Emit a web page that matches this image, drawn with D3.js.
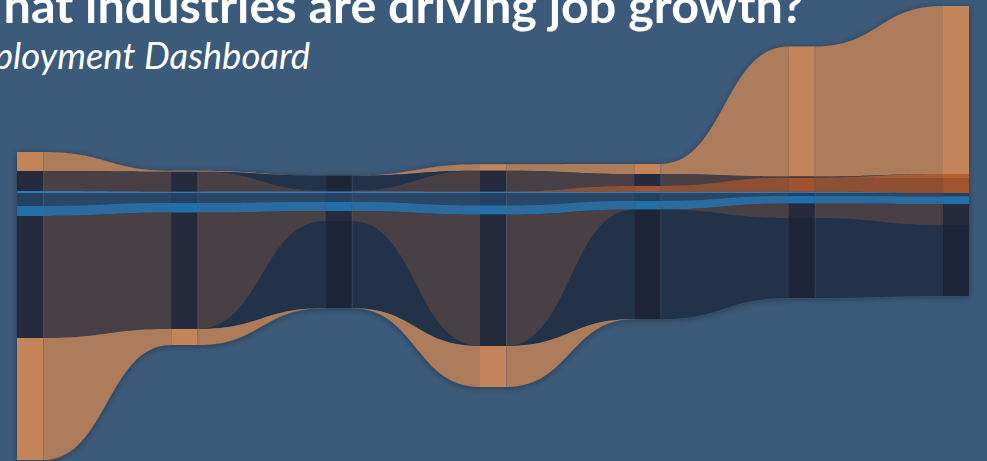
<!DOCTYPE html>
<html>
<head>
<meta charset="utf-8">
<script src="https://cdn.jsdelivr.net/npm/d3@7/dist/d3.min.js"></script>
<style>
  html, body { margin: 0; padding: 0; background: #3c5a79; overflow: hidden; }
  svg { display: block; }
  .title { font-family: Lato, "Open Sans", sans-serif; font-weight: 700; fill: #fff; }
  .subtitle { font-family: Lato, "Open Sans", sans-serif; font-style: italic; font-weight: 400; fill: #fff; }
</style>
</head>
<body>
<svg id="chart" width="987" height="461"></svg>
<script>
// periods shown as columns
var periods = ["2013", "2014", "2015", "2016", "2017", "2018", "2019"];

// industry bands, listed top to bottom; first six sit above the baseline
var bands = ["growthTop", "shrinkTop", "steadyTop", "riseSmall", "rise", "blueThin",
             "blueDark", "blue", "steady", "shrink", "growthBottom"];
var aboveBaseline = 6;

// change in jobs (thousands) per band and period
var growthTop    = [19, 1, 0, 6.5, 10, 130, 168];
var shrinkTop    = [0, 0, 15, 0, 0, 0, 0];
var steadyTop    = [20, 20, 0.8, 21, 12, 1.2, 0];
var riseSmall    = [0, 0, 0, 0, 0, 0, 4];
var rise         = [0, 0, 0, 0, 5.7, 14, 15];
var blueThin     = [2, 1.3, 1.5, 1.3, 1.3, 1.3, 0];
var blueDark     = [13, 10, 9, 12.5, 8, 3, 3.5];
var blue         = [10, 9.6, 9, 9, 8.5, 7.5, 7.5];
var steady       = [122, 116.4, 10, 131.5, 0, 14.5, 21];
var shrink       = [0, 0, 87, 0, 109.5, 80, 71];
var growthBottom = [122, 16, 0, 41, 0, 0, 0];

var values = {
  growthTop: growthTop, shrinkTop: shrinkTop, steadyTop: steadyTop, riseSmall: riseSmall,
  rise: rise, blueThin: blueThin, blueDark: blueDark, blue: blue, steady: steady,
  shrink: shrink, growthBottom: growthBottom
};

var nodeColor = {
  growthTop: "#c4845a", shrinkTop: "#1e2638", steadyTop: "#252a3e", riseSmall: "#b8612f",
  rise: "#a0522d", blueThin: "#2b7bbb", blueDark: "#273f62", blue: "#2070aa",
  steady: "#252a3e", shrink: "#1e2638", growthBottom: "#c4845a"
};
var linkColor = {
  growthTop: "#ad7b5a", shrinkTop: "#22314a", steadyTop: "#4a3f45", riseSmall: "#a85c36",
  rise: "#8f4f31", blueThin: "#3a78ad", blueDark: "#2b4667", blue: "#2c6c9f",
  steady: "#4a3f45", shrink: "#22314a", growthBottom: "#ad7b5a"
};

var width = 987, height = 461;
var nodeWidth = 26;
var baseline = 193;

var svg = d3.select("#chart");

var x = d3.scaleLinear().domain([0, periods.length - 1]).range([17, 943]);
var h = d3.scaleLinear().domain([0, 100]).range([0, 100]);

// stack every period around the baseline
var layout = periods.map(function (p, i) {
  var above = 0;
  bands.slice(0, aboveBaseline).forEach(function (b) { above += h(values[b][i]); });
  var y = baseline - above;
  var col = {};
  bands.forEach(function (b) {
    var v = h(values[b][i]);
    col[b] = { y0: y, y1: y + v, v: values[b][i] };
    y += v;
  });
  col.top = baseline - above;
  col.bottom = y;
  return col;
});

var defs = svg.append("defs");
var shadow = defs.append("filter").attr("id", "shadow")
  .attr("x", "-10%").attr("y", "-10%").attr("width", "120%").attr("height", "120%");
shadow.append("feDropShadow")
  .attr("dx", 0).attr("dy", 1).attr("stdDeviation", 3)
  .attr("flood-color", "#0b1522").attr("flood-opacity", 0.35);

var g = svg.append("g").attr("filter", "url(#shadow)");

var area = d3.area()
  .curve(d3.curveBumpX)
  .x(function (d) { return d.x; })
  .y0(function (d) { return d.y0; })
  .y1(function (d) { return d.y1; });

var links = [];
for (var i = 0; i < periods.length - 1; i++) {
  bands.forEach(function (b) {
    var s = layout[i][b], t = layout[i + 1][b];
    if (s.v === 0 && t.v === 0) return;
    links.push({
      band: b,
      points: [
        { x: x(i) + nodeWidth, y0: s.y0, y1: s.y1 },
        { x: x(i + 1), y0: t.y0, y1: t.y1 }
      ]
    });
  });
}

g.append("g").attr("class", "links")
  .selectAll("path")
  .data(links)
  .enter().append("path")
  .attr("d", function (d) { return area(d.points); })
  .attr("fill", function (d) { return linkColor[d.band]; });

// faint seam where links leave a column
g.append("g").attr("class", "seams")
  .selectAll("rect")
  .data(layout.slice(0, -1))
  .enter().append("rect")
  .attr("x", function (d, i) { return x(i) + nodeWidth; })
  .attr("y", function (d) { return d.top; })
  .attr("width", 1)
  .attr("height", function (d) { return d.bottom - d.top; })
  .attr("fill", "#5b676d")
  .attr("opacity", 0.45);

var nodes = [];
layout.forEach(function (col, i) {
  bands.forEach(function (b) {
    if (col[b].v > 0) nodes.push({ band: b, i: i, y0: col[b].y0, y1: col[b].y1 });
  });
});

g.append("g").attr("class", "nodes")
  .selectAll("rect")
  .data(nodes)
  .enter().append("rect")
  .attr("x", function (d) { return x(d.i); })
  .attr("y", function (d) { return d.y0; })
  .attr("width", nodeWidth)
  .attr("height", function (d) { return d.y1 - d.y0; })
  .attr("fill", function (d) { return nodeColor[d.band]; });

svg.append("text").attr("class", "title")
  .attr("x", -47).attr("y", 23)
  .style("font-size", "48.5px")
  .text("What industries are driving job growth?");

svg.append("text").attr("class", "subtitle")
  .attr("x", -54).attr("y", 69)
  .style("font-size", "36.5px")
  .text("Employment Dashboard");
</script>
</body>
</html>
